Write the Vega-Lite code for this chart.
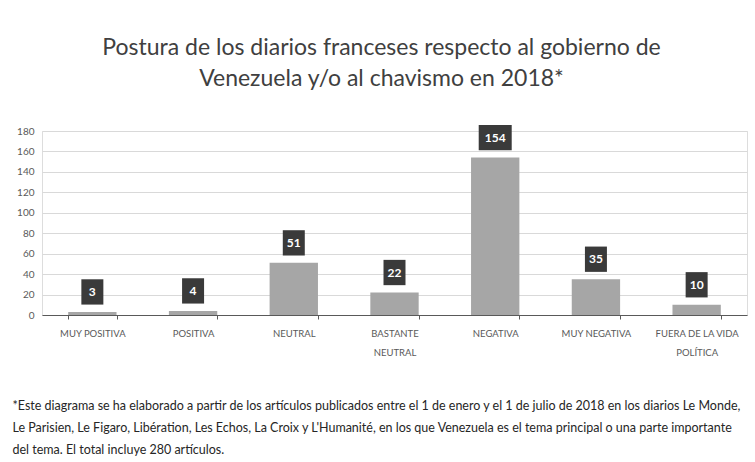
{
  "$schema": "https://vega.github.io/schema/vega-lite/v6.json",
  "autosize": {"type": "none"},
  "width": 705,
  "height": 184,
  "padding": {"left": 42, "top": 131, "right": 8, "bottom": 147},
  "background": "white",
  "title": {
    "text": ["Postura de los diarios franceses respecto al gobierno de", "Venezuela y/o al chavismo en 2018*"],
    "font": "Lato",
    "fontSize": 23,
    "fontWeight": "normal",
    "color": "#404040",
    "lineHeight": 31,
    "anchor": "middle",
    "dx": -13,
    "offset": 34
  },
  "data": {
    "values": [
      {"postura": "MUY POSITIVA", "articulos": 3},
      {"postura": "POSITIVA", "articulos": 4},
      {"postura": "NEUTRAL", "articulos": 51},
      {"postura": "BASTANTE NEUTRAL", "articulos": 22},
      {"postura": "NEGATIVA", "articulos": 154},
      {"postura": "MUY NEGATIVA", "articulos": 35},
      {"postura": "FUERA DE LA VIDA POLÍTICA", "articulos": 10}
    ]
  },
  "encoding": {
    "x": {
      "field": "postura",
      "type": "nominal",
      "sort": null,
      "scale": {"paddingInner": 0.52, "paddingOuter": 0.26},
      "axis": {
        "labelAngle": 0,
        "labelFont": "Lato",
        "labelFontSize": 9.5,
        "labelColor": "#595959",
        "labelPadding": 9,
        "labelLineHeight": 19,
        "labelExpr": "datum.label == 'BASTANTE NEUTRAL' ? ['BASTANTE', 'NEUTRAL'] : datum.label == 'FUERA DE LA VIDA POLÍTICA' ? ['FUERA DE LA VIDA', 'POLÍTICA'] : datum.label",
        "domainColor": "#595959",
        "tickColor": "#595959",
        "tickBand": "extent",
        "tickSize": 4,
        "title": ["*Este diagrama se ha elaborado a partir de los artículos publicados entre el 1 de enero y el 1 de julio de 2018 en los diarios Le Monde,", "Le Parisien, Le Figaro, Libération, Les Echos, La Croix y L'Humanité, en los que Venezuela es el tema principal o una parte importante", "del tema. El total incluye 280 artículos."],
        "titleFont": "Lato",
        "titleFontSize": 12.5,
        "titleFontWeight": "normal",
        "titleColor": "#262626",
        "titleLineHeight": 22,
        "titleAnchor": "start",
        "titleAlign": "left",
        "titleBaseline": "middle",
        "titleX": -30,
        "titleY": 90
      }
    },
    "y": {
      "field": "articulos",
      "type": "quantitative",
      "scale": {"domain": [0, 180]},
      "axis": {
        "values": [0, 20, 40, 60, 80, 100, 120, 140, 160, 180],
        "title": null,
        "domain": false,
        "ticks": false,
        "labelFont": "Lato",
        "labelFontSize": 10,
        "labelColor": "#595959",
        "labelPadding": 8,
        "gridColor": "#d9d9d9"
      }
    }
  },
  "layer": [
    {"mark": {"type": "bar", "color": "#a6a6a6"}},
    {
      "mark": {"type": "point", "filled": true, "color": "#3a3a3a", "opacity": 1, "yOffset": -20, "size": 484},
      "encoding": {
        "shape": {"condition": {"test": "datum.articulos >= 100", "value": "M-1.5,-1.15H1.5V1.15H-1.5Z"}, "value": "M-1,-1.15H1V1.15H-1Z"}
      }
    },
    {
      "mark": {"type": "text", "color": "white", "font": "Lato", "fontSize": 12, "fontWeight": "bold", "yOffset": -20, "baseline": "middle"},
      "encoding": {"text": {"field": "articulos", "type": "quantitative"}}
    }
  ]
}
